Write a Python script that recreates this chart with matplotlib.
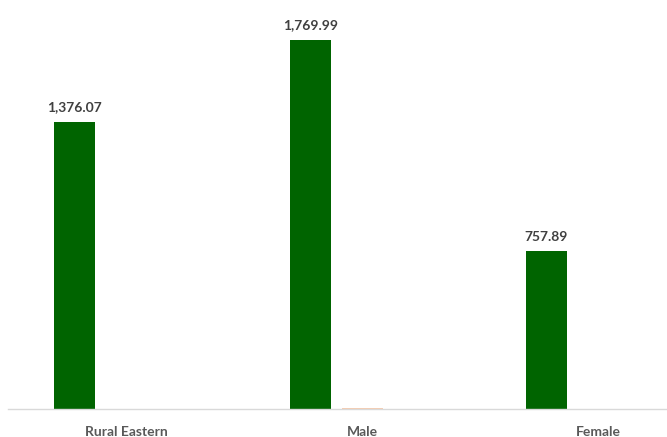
import matplotlib
matplotlib.use("Agg")
import matplotlib.pyplot as plt
import numpy as np

categories = ["Rural Eastern", "Male", "Female"]
series_green = [1376.07, 1769.99, 757.89]
series_orange = [0, 6, 0]
series_third = [0, 0, 0]
green_labels = ["1,376.07", "1,769.99", "757.89"]

plt.rcParams['font.family'] = ['Lato', 'DejaVu Sans']

W, H = 667, 437
fig = plt.figure(figsize=(W / 100, H / 100), dpi=100)
ax = fig.add_axes([8 / W, 28 / H, (667 - 8) / W, 409 / H])

x = np.arange(len(categories))
bw = 41 / 236.5
step = 52 / 236.5
ax.bar(x - step, series_green, width=bw, color="#006400", zorder=2)
ax.bar(x, series_orange, width=bw, color="#F8CBAD", zorder=2)
ax.bar(x + step, series_third, width=bw, color="#A5A5A5", zorder=2)

for xi, v, lab in zip(x, series_green, green_labels):
    ax.annotate(lab, (xi - step, v), xytext=(0, 6), textcoords="offset points",
                ha="center", va="bottom", fontsize=10, fontweight="bold", color="#404040")

ax.set_xlim(-0.5, (667 - 125) / 236.5)
ax.set_ylim(0, 1960)
ax.set_xticks(x)
ax.set_xticklabels(categories, fontsize=10, fontweight="bold", color="#595959")
ax.tick_params(axis="x", length=0, pad=12)
ax.set_yticks([])
for s in ["top", "right", "left"]:
    ax.spines[s].set_visible(False)
ax.spines["bottom"].set_color("#D9D9D9")
ax.spines["bottom"].set_linewidth(1)

fig.savefig("out.png", dpi=100)
